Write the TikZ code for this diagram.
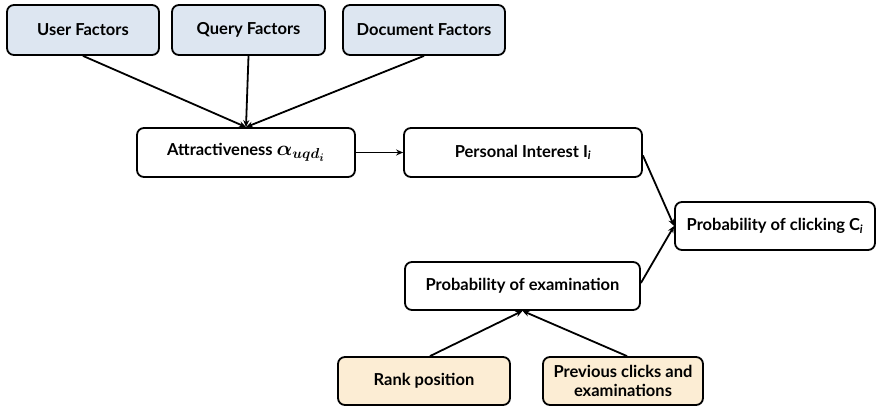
\documentclass[tikz,border=0pt]{standalone}
\usepackage{amsmath}
\usepackage{bm}
\usepackage{fontspec}
\setmainfont{Lato}
\usetikzlibrary{arrows.meta}
\definecolor{factorblue}{RGB}{221,230,241}
\definecolor{factortan}{RGB}{252,237,212}
\begin{document}
\begin{tikzpicture}[x=1pt,y=-1pt,
  box/.style={draw=black,line width=1.8pt,rounded corners=7pt,fill=white,
    inner sep=0pt,align=center,font=\fontsize{16.5}{19}\selectfont\bfseries\boldmath},
  factor/.style={box,fill=factorblue},
  source/.style={box,fill=factortan},
  link/.style={line width=1.8pt,-{Stealth[length=7pt,width=6pt]}}]
\useasboundingbox (0,0) rectangle (876,406);
% input factors
\node[factor,minimum width=152pt,minimum height=50pt] (uf) at (83,30) {User Factors};
\node[factor,minimum width=153pt,minimum height=50pt] (qf) at (248.5,30) {Query Factors};
\node[factor,minimum width=162pt,minimum height=50pt] (df) at (424,30) {Document Factors};
% middle layer
\node[box,minimum width=218pt,minimum height=49pt] (at) at (246,152.5)
  {Attractiveness {\fontsize{21}{23}\selectfont$\bm{\alpha}_{\bm{uqd_i}}$}};
\node[box,minimum width=238pt,minimum height=49pt] (pi) at (523,152.5)
  {Personal Interest I$_{\textit{i}}$};
\node[box,minimum width=200pt,minimum height=48pt] (ck) at (775,226)
  {Probability of clicking C$_{\textit{i}}$};
\node[box,minimum width=235pt,minimum height=48pt] (ex) at (522.5,286)
  {Probability of examination};
% examination sources
\node[source,minimum width=172pt,minimum height=48pt] (rp) at (424,381) {Rank position};
\node[source,minimum width=160pt,minimum height=48pt] (pc) at (623,381)
  {Previous clicks and\\examinations};
% connectors
\draw[link] (uf.south) -- (at.north);
\draw[link] (qf.south) -- (at.north);
\draw[link] (df.south) -- (at.north);
\draw[link] (at.east) -- (pi.west);
\draw[link] ([yshift=-3pt]pi.east) -- (ck.west);
\draw[link] ([yshift=3pt]ex.east) -- (ck.west);
\draw[link] ([xshift=6pt]rp.north) -- (ex.south);
\draw[link] ([xshift=4pt]pc.north) -- (ex.south);
\end{tikzpicture}
\end{document}
